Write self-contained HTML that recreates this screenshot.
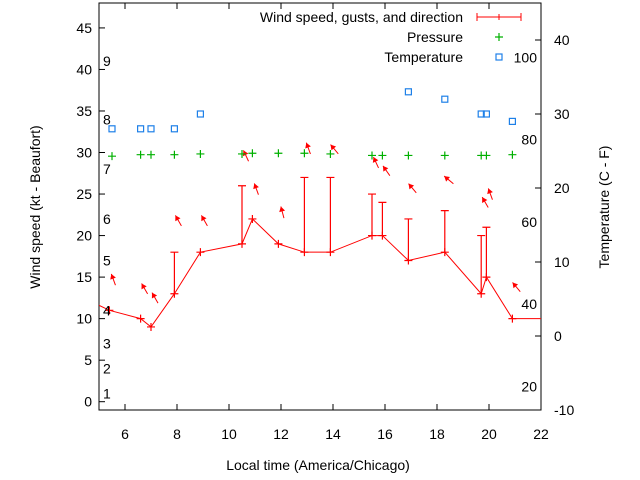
<!DOCTYPE html>
<html><head><meta charset="utf-8"><style>
html,body{margin:0;padding:0;background:#fff;}
svg{display:block;font-family:"Liberation Sans",sans-serif;}
</style></head><body>
<svg id="chart" width="640" height="480" viewBox="0 0 640 480">
<defs><clipPath id="pc"><rect x="99" y="3" width="442" height="407"/></clipPath></defs>
<g id="grid"></g>
<g id="marks" clip-path="url(#pc)"></g>
<g id="labels"></g>
</svg>
<script>
const times = [5.4, 6.6, 7.0, 7.9, 8.9, 10.5, 10.9, 11.9, 12.9, 13.9, 15.5, 15.9, 16.9, 18.3, 19.7, 19.9, 20.9];
const speeds = [11, 10, 9, 13, 18, 19, 22, 19, 18, 18, 20, 20, 17, 18, 13, 15, 10];
const gusts = [null, null, null, 18, null, 26, null, null, 27, 27, 25, 24, 22, 23, 20, 21, null];
const arrowLevels = [14.7, 13.6, 12.5, 21.8, 21.8, 29.6, 25.6, 22.8, 30.5, 30.4, 28.8, 27.8, 25.7, 26.7, 24.0, 25.0, 13.8];
const arrowDirs = [340, 330, 330, 330, 330, 335, 340, 345, 340, 320, 335, 325, 320, 310, 330, 340, 320];
const pressTimes = [5.5, 6.6, 7.0, 7.9, 8.9, 10.5, 10.9, 11.9, 12.9, 13.9, 15.5, 15.9, 16.9, 18.3, 19.7, 19.9, 20.9];
const pressures = [24.3, 24.5, 24.5, 24.5, 24.6, 24.6, 24.7, 24.7, 24.7, 24.6, 24.4, 24.4, 24.4, 24.4, 24.4, 24.4, 24.5];
const tempTimes = [5.5, 6.6, 7.0, 7.9, 8.9, 16.9, 18.3, 19.7, 19.9, 20.9];
const temps = [28, 28, 28, 28, 30, 33, 32, 30, 30, 29];
const xTicks = [6, 8, 10, 12, 14, 16, 18, 20, 22];
const yTicks = [0, 5, 10, 15, 20, 25, 30, 35, 40, 45];
const y2Ticks = [-10, 0, 10, 20, 30, 40];
const beaufortLabels = ["1","2","3","4","5","6","7","8","9"];
const beaufortPos = [1, 4, 7, 11, 17, 22, 28, 34, 41];
const fLabels = [20, 40, 60, 80, 100];

const X0=99,X1=541,YT=3,YB=410;
const x=t=>X0+(t-5)/(22-5)*(X1-X0);
const y=v=>YB-(v+1)/(48+1)*(YB-YT);
const y2=v=>YB-(v+10)/(45+10)*(YB-YT);
const NS="http://www.w3.org/2000/svg";
function mk(tag,attrs,parent,txt){const e=document.createElementNS(NS,tag);for(const k in attrs)e.setAttribute(k,attrs[k]);if(txt!==undefined)e.textContent=txt;parent.appendChild(e);return e;}
const grid=document.getElementById('grid'),marks=document.getElementById('marks'),labels=document.getElementById('labels');

let e=mk('rect',{x:X0,y:YT,width:X1-X0,height:YB-YT,fill:'none',stroke:'#000','stroke-width':1},grid);


xTicks.forEach(t=>{const xx=x(t);
 mk('line',{x1:xx,x2:xx,y1:YB,y2:YB-6,stroke:'#000'},grid);
 mk('line',{x1:xx,x2:xx,y1:YT,y2:YT+6,stroke:'#000'},grid);
 e=mk('text',{x:xx,y:YB+29,'text-anchor':'middle','font-size':14},labels,String(t));
 
});
yTicks.forEach(v=>{const yy=y(v);
 mk('line',{x1:X0,x2:X0+6,y1:yy,y2:yy,stroke:'#000'},grid);
 e=mk('text',{x:X0-7,y:yy+5,'text-anchor':'end','font-size':14},labels,String(v));
 
});
y2Ticks.forEach(v=>{const yy=y2(v);
 mk('line',{x1:X1,x2:X1-6,y1:yy,y2:yy,stroke:'#000'},grid);
 e=mk('text',{x:X1+13,y:yy+5,'font-size':14},labels,String(v));
 
});
beaufortLabels.forEach((l,i)=>{
 e=mk('text',{x:103,y:y(beaufortPos[i])+5,'font-size':14},labels,l);
 
});
fLabels.forEach(f=>{
 e=mk('text',{x:537,y:y2((f-32)*5/9)+6,'text-anchor':'end','font-size':14},labels,String(f));
 
});

// wind line
let pts=[[4.8,11.9]].concat(times.map((t,i)=>[t,speeds[i]])).concat([[22.5,10]]);
e=mk('polyline',{points:pts.map(p=>x(p[0])+','+y(p[1])).join(' '),fill:'none',stroke:'#f00','stroke-width':1},marks);

times.forEach((t,i)=>{const xx=x(t),yy=y(speeds[i]);
 e=mk('path',{d:`M${xx-4},${yy}H${xx+4}M${xx},${yy-4}V${yy+4}`,stroke:'#f00','stroke-width':1.2},marks);
 
 if(gusts[i]!==null){const gy=y(gusts[i]);
  e=mk('path',{d:`M${xx},${yy}V${gy}M${xx-4},${gy}H${xx+4}`,stroke:'#f00','stroke-width':1.2},marks);
  }
 const a=arrowDirs[i]*Math.PI/180,cx=xx+4,cy=y(arrowLevels[i]);
 const dx=Math.sin(a)*6,dy=-Math.cos(a)*6;
 const hx=cx+dx,hy=cy+dy,ux=dx/6,uy=dy/6;
 const p1=[hx-ux*5-uy*3,hy-uy*5+ux*3],p2=[hx-ux*5+uy*3,hy-uy*5-ux*3];
 e=mk('g',{},marks);
 
 mk('line',{x1:cx-dx,y1:cy-dy,x2:hx,y2:hy,stroke:'#f00','stroke-width':1},e);
 mk('polygon',{points:`${hx},${hy} ${p1} ${p2}`,fill:'#f00'},e);
});
pressTimes.forEach((t,i)=>{const xx=x(t),yy=y2(pressures[i]);
 e=mk('path',{d:`M${xx-4},${yy}H${xx+4}M${xx},${yy-4}V${yy+4}`,stroke:'#00b000','stroke-width':1.2},marks);
 
});
tempTimes.forEach((t,i)=>{const xx=x(t),yy=y2(temps[i]);
 e=mk('rect',{x:xx-3,y:yy-3,width:6,height:6,fill:'none',stroke:'#1e80e8','stroke-width':1.2},marks);
 
});

// legend
const lg=mk('g',{},labels);
e=mk('text',{x:463,y:22,'text-anchor':'end','font-size':14},lg,'Wind speed, gusts, and direction');

mk('path',{d:'M477,17H521M477,13V21M521,13V21M499,14V20',stroke:'#f00','stroke-width':1},lg);
e=mk('text',{x:463,y:42,'text-anchor':'end','font-size':14},lg,'Pressure');

mk('path',{d:'M495,37H503M499,33V41',stroke:'#00b000','stroke-width':1.2},lg);
e=mk('text',{x:463,y:62,'text-anchor':'end','font-size':14},lg,'Temperature');

mk('rect',{x:496,y:54,width:6,height:6,fill:'none',stroke:'#1e80e8','stroke-width':1.2},lg);

e=mk('text',{x:318,y:470,'text-anchor':'middle','font-size':14},labels,'Local time (America/Chicago)');

e=mk('text',{x:0,y:0,'text-anchor':'middle','font-size':14,transform:'translate(40,207) rotate(-90)'},labels,'Wind speed (kt - Beaufort)');

e=mk('text',{x:0,y:0,'text-anchor':'middle','font-size':14,transform:'translate(609,207) rotate(-90)'},labels,'Temperature (C - F)');

</script>
</body></html>
